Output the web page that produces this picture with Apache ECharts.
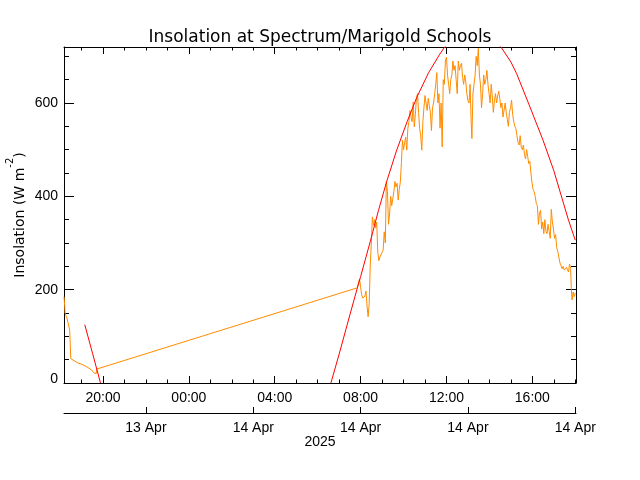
<!DOCTYPE html>
<html><head><meta charset="utf-8">
<script src="https://cdn.jsdelivr.net/npm/echarts@6/dist/echarts.min.js"></script>
<style>html,body{margin:0;padding:0;background:#fff}#c{width:640px;height:480px}</style>
</head><body><div id="c"></div>
<script>
// Times are minutes relative to 2025-04-14 00:00 (negative values = 13 Apr)
const obsMinutesEve = [-349,-347,-346,-344,-341,-338,-335,-333,-331,-330,-327,-310,-296,-282,-272,-266,-262,-259,-257,-254];
const obsValuesEve  = [185,165,150,145,140,130,120,112,108,52,48,43,39,33,28,22,19,20,30,32];
const obsMinutesDay = [
  471,474,477,480,483,486,489,492,495,498,501,504,507,510,513,516,519,522,525,528,531,534,537,540,543,546,549,552,555,558,
  561,564,567,570,573,576,579,582,585,588,591,594,597,600,603,606,609,612,615,618,621,624,627,630,633,636,639,642,645,648,
  651,654,657,660,663,666,669,672,675,678,681,684,687,690,693,696,699,702,705,708,711,714,717,720,723,726,729,732,735,738,
  741,744,747,750,753,756,759,762,765,768,771,774,777,780,783,786,789,791,794,797,800,803,806,809,812,815,818,821,824,827,
  830,833,836,839,842,845,848,851,854,857,860,863,866,869,872,875,878,881,884,887,890,893,896,899,902,905,908,911,914,917,
  920,923,926,929,932,935,938,941,944,947,950,953,956,959,962,965,968,971,974,977,980,983,986,989,992,995,998,1001,1004,1007,
  1010,1013,1016,1019,1022,1025,1028,1031,1034,1037,1040,1043,1046,1049,1052,1055,1058,1061,1064,1067,1069,1071,1074,1077,1080
];
const obsValuesDay = [
  204,215,223,205,189,182,180,186,197,165,142,170,253,300,356,338,350,332,345,280,262,270,266,280,285,324,300,432,410,340,
  362,400,380,395,410,432,420,428,392,415,430,472,520,500,515,527,499,545,560,584,570,560,602,549,575,610,620,580,545,530,
  499,560,590,616,600,584,610,595,580,541,590,600,620,640,665,600,620,546,600,506,650,640,690,698,660,640,620,650,660,690,
  670,680,650,620,690,670,680,685,655,640,660,645,620,605,600,640,560,524,620,640,660,700,680,717,660,640,590,620,660,640,
  650,670,640,620,600,640,615,580,605,620,600,615,625,610,590,600,570,585,600,580,565,550,580,590,606,575,560,550,545,530,
  515,510,530,505,500,510,490,480,500,485,470,475,450,430,415,410,400,385,380,340,365,370,330,345,320,350,325,320,340,325,
  310,372,345,330,310,318,290,282,270,258,252,245,250,242,240,248,250,238,255,245,200,178,195,185,193
];
const modelMinutesEve = [-291,-269,-247];
const modelValuesEve = [125,63,0];
const modelMinutesDay = [397,420,450,471,480,508,530,553,580,610,637,670,700,713,740,770,793,820,850,874,900,916,950,990,1020,1061,1080];
const modelValuesDay = [0,62,146,204,228,306,370,432,497,560,612,665,703,718,740,755,760,756,740,718,688,663,598,520,455,349,306];

const hourTickMinutes = [-240,0,240,480,720,960];
const hourTickLabels = ['20:00','00:00','04:00','08:00','12:00','16:00'];
const dateTickMinutes = [-120,180,480,780,1080];
const dateTickLabels = ['13 Apr','14 Apr','14 Apr','14 Apr','14 Apr'];
const yTickValues = [0,200,400,600];
const yTickLabels = ['0','200','400','600'];
const yearLabel = '2025';
const titleText = 'Insolation at Spectrum/Marigold Schools';
const xRange = [-349,1082];
const yRange = [0,720];

const pair = (ms, vs) => ms.map((m,i)=>[m, vs[i]]);
const obsData = pair(obsMinutesEve, obsValuesEve).concat(pair(obsMinutesDay, obsValuesDay));
const minorHour = []; for (let m=-300; m<=1080; m+=60) minorHour.push(m);
const minorY = []; for (let v=50; v<=700; v+=50) minorY.push(v);

const FONT = 'Liberation Sans';
const TFONT = 'DejaVu Sans';
const black = '#000';
function xAx(o){
  return Object.assign({type:'value', min:xRange[0], max:xRange[1], gridIndex:0,
    splitLine:{show:false}, minorTick:{show:false},
    axisLine:{show:false, onZero:false, lineStyle:{color:black,width:1}},
    axisLabel:{show:false}, axisTick:{show:false}}, o);
}
function yAx(o){
  return Object.assign({type:'value', min:yRange[0], max:yRange[1], gridIndex:0,
    splitLine:{show:false},
    axisLine:{show:false, onZero:false, lineStyle:{color:black,width:1}},
    axisLabel:{show:false}, axisTick:{show:false}}, o);
}
const findIdx = (vals, v) => vals.findIndex(x=>Math.abs(x-v)<0.5);
const findLabel = (vals, labs, v) => { const i = findIdx(vals, v); return i>=0 ? labs[i] : ''; };

const chart = echarts.init(document.getElementById('c'), null, {renderer:'canvas'});
chart.setOption({
  animation:false,
  backgroundColor:'#fff',
  title:{text:titleText, left:'center', top:24, textStyle:{fontFamily:TFONT, fontWeight:'normal', fontSize:17, color:black}},
  grid:{left:64, right:64, top:47, bottom:97, outerBoundsMode:'none', containLabel:false},
  xAxis:[
    xAx({position:'bottom', axisLine:{show:true,onZero:false,lineStyle:{color:black}},
      axisTick:{show:true, inside:true, length:7, customValues:hourTickMinutes, lineStyle:{color:black}},
      axisLabel:{show:true, customValues:hourTickMinutes, margin:8, fontFamily:FONT, fontSize:14, color:black,
        formatter:v=>findLabel(hourTickMinutes, hourTickLabels, v)}}),
    xAx({position:'bottom', axisTick:{show:true, inside:true, length:3.5, customValues:minorHour, lineStyle:{color:black}}}),
    xAx({position:'top', axisLine:{show:true,onZero:false,lineStyle:{color:black}},
      axisTick:{show:true, inside:true, length:7, customValues:hourTickMinutes, lineStyle:{color:black}}}),
    xAx({position:'top', axisTick:{show:true, inside:true, length:3.5, customValues:minorHour, lineStyle:{color:black}}}),
    xAx({position:'bottom', offset:30, axisLine:{show:true,onZero:false,lineStyle:{color:black}},
      axisTick:{show:true, inside:true, length:6, customValues:dateTickMinutes, lineStyle:{color:black}},
      axisLabel:{show:true, customValues:dateTickMinutes, margin:8, fontFamily:FONT, fontSize:14, color:black,
        formatter:v=>findLabel(dateTickMinutes, dateTickLabels, v)},
      name:yearLabel, nameLocation:'middle', nameGap:22, nameMoveOverlap:false,
      nameTextStyle:{fontFamily:FONT, fontSize:14, color:black}})
  ],
  yAxis:[
    yAx({position:'left', axisLine:{show:true,onZero:false,lineStyle:{color:black}},
      axisTick:{show:true, inside:true, length:10, customValues:yTickValues, lineStyle:{color:black}},
      axisLabel:{show:true, customValues:yTickValues, margin:6, fontFamily:FONT, fontSize:14, color:black,
        formatter:v=>{ const i = findIdx(yTickValues, v); if (i<0) return ''; return i===0 ? '{z|'+yTickLabels[i]+'}' : yTickLabels[i]; },
        rich:{z:{fontFamily:FONT, fontSize:14, color:black, padding:[0,0,8,0]}}},
      name:'{a|Insolation (W m}{s|-2}{a|)}', nameLocation:'middle', nameGap:37, nameRotate:90, nameMoveOverlap:false,
      nameTextStyle:{fontFamily:TFONT, fontSize:14, color:black,
        rich:{a:{fontFamily:TFONT, fontSize:14, color:black, lineHeight:22, verticalAlign:'bottom'},
              s:{fontFamily:TFONT, fontSize:10, color:black, lineHeight:22, verticalAlign:'top'}}}}),
    yAx({position:'left', axisTick:{show:true, inside:true, length:5, customValues:minorY, lineStyle:{color:black}}}),
    yAx({position:'right', axisLine:{show:true,onZero:false,lineStyle:{color:black}},
      axisTick:{show:true, inside:true, length:10, customValues:yTickValues, lineStyle:{color:black}}}),
    yAx({position:'right', axisTick:{show:true, inside:true, length:5, customValues:minorY, lineStyle:{color:black}}})
  ],
  series:[
    {type:'line', name:'Observed', xAxisIndex:0, yAxisIndex:0, data:obsData,
      showSymbol:false, symbol:'none', lineStyle:{color:'#ff8c00', width:1}, itemStyle:{color:'#ff8c00'}, clip:true},
    {type:'line', name:'Clear sky eve', xAxisIndex:0, yAxisIndex:0, data:pair(modelMinutesEve, modelValuesEve),
      showSymbol:false, symbol:'none', lineStyle:{color:'#ff0000', width:1}, itemStyle:{color:'#ff0000'}, clip:true},
    {type:'line', name:'Clear sky day', xAxisIndex:0, yAxisIndex:0, data:pair(modelMinutesDay, modelValuesDay),
      showSymbol:false, symbol:'none', lineStyle:{color:'#ff0000', width:1}, itemStyle:{color:'#ff0000'}, clip:true}
  ]
});
</script></body></html>
